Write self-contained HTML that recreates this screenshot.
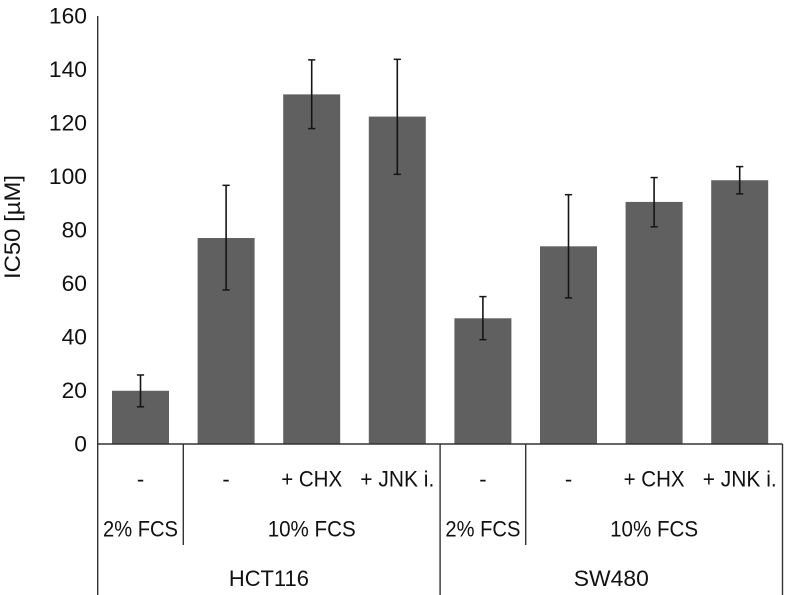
<!DOCTYPE html>
<html lang="en">
<head>
<meta charset="utf-8">
<title>IC50 bar chart</title>
<style>
html,body{margin:0;padding:0;background:#fff;}
svg{display:block;}
text{font-family:"Liberation Sans",sans-serif;fill:#111;}
</style>
</head>
<body>
<svg id="chart" xmlns="http://www.w3.org/2000/svg" width="786" height="595" viewBox="0 0 786 595">
  <rect x="0" y="0" width="786" height="595" fill="#fff"/>
  <g id="bars"></g>
  <g id="errors"></g>
  <g id="axis"></g>
  <g id="labels"></g>
  <text transform="translate(20,227) rotate(-90)" text-anchor="middle" font-size="22" textLength="104" lengthAdjust="spacingAndGlyphs">IC50 [µM]</text>
</svg>
<script>
const treatments = ['-', '-', '+ CHX', '+ JNK i.', '-', '-', '+ CHX', '+ JNK i.'];
const values = [19.9, 77, 130.7, 122.4, 47, 73.9, 90.5, 98.6];
const errorHigh = [25.8, 96.7, 143.6, 143.8, 55.1, 93.2, 99.6, 103.7];
const errorLow = [13.9, 57.6, 117.9, 100.8, 39, 54.6, 81.2, 93.5];
const yTicks = [0, 20, 40, 60, 80, 100, 120, 140, 160];
const serumGroups = [
  { label: '2% FCS', start: 0, end: 1 },
  { label: '10% FCS', start: 1, end: 4 },
  { label: '2% FCS', start: 4, end: 5 },
  { label: '10% FCS', start: 5, end: 8 }
];
const cellLines = [
  { label: 'HCT116', start: 0, end: 4 },
  { label: 'SW480', start: 4, end: 8 }
];

const NS = 'http://www.w3.org/2000/svg';
const plotLeft = 97.7, plotRight = 782.5, plotTop = 16, plotBottom = 444;
const yMax = 160;
const step = (plotRight - plotLeft) / treatments.length;
const barWidth = 57;
const fittedWidth = { '+ CHX': 61, '+ JNK i.': 74, '2% FCS': 75, '10% FCS': 88, 'HCT116': 80, 'SW480': 75 };
const tickDigitWidth = 12.7;
function xEdge(i) { return plotLeft + step * i; }
function xCenter(i) { return xEdge(i + 0.5); }
function yScale(v) { return plotBottom - (v / yMax) * (plotBottom - plotTop); }

function make(tag, attrs, parent, text) {
  const el = document.createElementNS(NS, tag);
  for (const k in attrs) el.setAttribute(k, attrs[k]);
  if (text !== undefined) el.textContent = text;
  parent.appendChild(el);
  return el;
}
function fit(el, width) {
  if (!width) return;
  el.setAttribute('textLength', width);
  el.setAttribute('lengthAdjust', 'spacingAndGlyphs');
}

const barsG = document.getElementById('bars');
const errorsG = document.getElementById('errors');
const axisG = document.getElementById('axis');
const labelsG = document.getElementById('labels');

values.forEach(function (v, i) {
  const bar = make('rect', { x: xCenter(i) - barWidth / 2, y: yScale(v), width: barWidth, height: plotBottom - yScale(v), fill: '#606060' }, barsG);
  
  
});

errorHigh.forEach(function (hi, i) {
  const cx = xCenter(i);
  const yHi = yScale(hi);
  const yLo = yScale(errorLow[i]);
  const stem = make('line', { x1: cx, x2: cx, y1: yHi, y2: yLo, stroke: '#151515', 'stroke-width': 1.6 }, errorsG);
  
  
  const capTop = make('line', { x1: cx - 3.6, x2: cx + 3.6, y1: yHi, y2: yHi, stroke: '#151515', 'stroke-width': 1.5 }, errorsG);
  
  
  const capLow = make('line', { x1: cx - 3.6, x2: cx + 3.6, y1: yLo, y2: yLo, stroke: '#151515', 'stroke-width': 1.5 }, errorsG);
  
  
});

const yAxis = make('line', { x1: plotLeft, x2: plotLeft, y1: plotTop, y2: 595, stroke: '#333', 'stroke-width': 1.4 }, axisG);


const xAxis = make('line', { x1: plotLeft, x2: plotRight, y1: plotBottom, y2: plotBottom, stroke: '#333', 'stroke-width': 1.4 }, axisG);



yTicks.forEach(function (t) {
  const tick = make('text', { x: 87, y: yScale(t) + 7.5, 'text-anchor': 'end', 'font-size': 22 }, axisG, String(t));
  
  
  fit(tick, String(t).length * tickDigitWidth);
});

treatments.forEach(function (label, i) {
  const t = make('text', { x: xCenter(i), y: 486.5, 'text-anchor': 'middle', 'font-size': 22 }, labelsG, label);
  
  
  fit(t, fittedWidth[label]);
});

serumGroups.forEach(function (g) {
  const t = make('text', { x: (xEdge(g.start) + xEdge(g.end)) / 2, y: 536.5, 'text-anchor': 'middle', 'font-size': 22 }, labelsG, g.label);
  
  
  fit(t, fittedWidth[g.label]);
  if (g.start > 0 && g.end - g.start > 1) {
    const d = make('line', { x1: xEdge(g.start), x2: xEdge(g.start), y1: plotBottom, y2: 545, stroke: '#333', 'stroke-width': 1.4 }, axisG);
    
    
  }
});

cellLines.forEach(function (g) {
  const t = make('text', { x: (xEdge(g.start) + xEdge(g.end)) / 2, y: 586, 'text-anchor': 'middle', 'font-size': 22 }, labelsG, g.label);
  
  
  fit(t, fittedWidth[g.label]);
  const d = make('line', { x1: xEdge(g.end), x2: xEdge(g.end), y1: plotBottom, y2: 595, stroke: '#333', 'stroke-width': 1.4 }, axisG);
  
  
});
</script>
</body>
</html>
